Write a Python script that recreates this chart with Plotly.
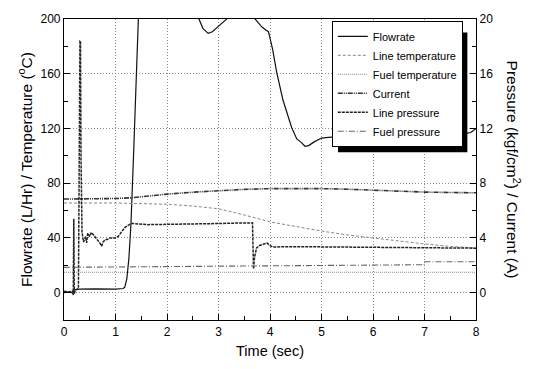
import plotly.graph_objects as go

# ---- data ----
flow_t = [0, 0.1, 0.15, 0.2, 0.3, 0.6, 1.0, 1.1, 1.15, 1.18, 1.22, 1.26, 1.3, 1.35, 1.4, 1.42, 1.5,
          2.5, 2.62, 2.7, 2.8, 2.88, 2.98, 3.08, 3.16, 3.2, 3.6, 3.71, 3.78, 3.84, 3.92, 3.97, 4.05, 4.13,
          4.25, 4.35, 4.42, 4.52, 4.6, 4.68, 4.75, 4.85, 5.0, 5.13, 5.3, 5.6, 5.85, 5.95, 6.05, 6.2,
          6.5, 6.7, 6.8, 6.9, 7.0, 7.3, 7.6, 7.75, 7.9, 8.0]
flow_v = [0, 0.5, 0, 2, 2.5, 2.8, 2.6, 2.8, 3, 4, 10, 25, 50, 100, 180, 205, 260,
          260, 200, 193, 189.5, 190.7, 194, 197, 200, 203, 215, 200, 197, 194.3, 192, 190.7, 178, 161,
          141, 128, 120.7, 112.3, 110, 107, 107.5, 110, 113, 113.5, 114, 114.5, 116, 117.5, 116, 115.5,
          115, 115.5, 117, 116, 115, 115, 115, 116, 117, 120]

linetemp_t = [0, 1.0, 2.0, 2.5, 3.0, 3.5, 4.0, 4.5, 5.0, 5.5, 6.0, 6.5, 7.0, 7.5, 8.0]
linetemp_v = [65.5, 65.5, 64.6, 63.3, 61.3, 56.8, 51.7, 48.2, 45, 42.2, 40, 37.6, 35.6, 33.8, 32.7]

fueltemp_t = [0, 1, 2, 3, 4, 5, 6, 7, 8]
fueltemp_v = [14.9, 14.8, 15.0, 14.9, 14.8, 14.9, 14.9, 15.0, 14.9]

current_t = [0, 0.5, 1.0, 1.3, 1.6, 2.0, 2.5, 3.0, 3.5, 4.0, 4.5, 5.0, 5.5, 6.0, 6.5, 7.0, 7.5, 8.0]
current_v = [6.84, 6.85, 6.88, 6.93, 7.05, 7.2, 7.34, 7.46, 7.55, 7.6, 7.62, 7.6, 7.56, 7.48, 7.42, 7.35, 7.32, 7.3]

linep_t = [0, 0.1, 0.16, 0.18, 0.19, 0.2, 0.22, 0.28, 0.31, 0.32, 0.33, 0.35, 0.38, 0.42, 0.44, 0.46,
           0.5, 0.53, 0.57, 0.6, 0.63, 0.66, 0.7, 0.73, 0.76, 0.8, 0.85, 0.89, 0.95, 0.99, 1.05,
           1.12, 1.18, 1.25, 1.32, 1.6, 2.0, 2.5, 3.0, 3.3, 3.6, 3.66, 3.68, 3.7, 3.74, 3.8, 3.88,
           3.94, 4.0, 4.05, 4.5, 5.0, 5.5, 6.0, 6.5, 7.0, 7.5, 8.0]
linep_v = [0.1, 0.05, 0.1, -0.17, 5.4, -0.1, 0.2, 0.3, 18.4, 18.4, 10, 4.4, 3.7, 4.1, 3.63, 4.34,
           4.1, 4.4, 4.23, 4.1, 3.99, 3.8, 3.6, 3.4, 3.7, 3.87, 3.9, 3.99, 4.0, 4.0, 4.1,
           4.46, 4.75, 4.94, 5.06, 4.97, 4.98, 5.0, 5.05, 5.08, 5.1, 5.1, 1.73, 2.6, 3.27, 3.45, 3.55,
           3.63, 3.45, 3.34, 3.36, 3.34, 3.34, 3.3, 3.28, 3.3, 3.28, 3.25]

fuelp_t = [0, 1, 2, 3, 4, 5, 6, 6.99, 7.0, 7.5, 8.0]
fuelp_v = [1.85, 1.87, 1.92, 1.95, 1.97, 1.99, 2.01, 2.04, 2.26, 2.26, 2.26]

FONT = "Liberation Sans, Arial, sans-serif"
GRID = dict(showgrid=True, gridcolor="#8a8a8a", griddash="1px,2px", gridwidth=1)

fig = go.Figure()
fig.add_trace(go.Scatter(x=flow_t, y=flow_v, name="Flowrate", mode="lines",
                         line=dict(color="#111111", width=1.2)))
fig.add_trace(go.Scatter(x=linetemp_t, y=linetemp_v, name="Line temperature", mode="lines",
                         line=dict(color="#888888", width=1, dash="3px,2px")))
fig.add_trace(go.Scatter(x=fueltemp_t, y=fueltemp_v, name="Fuel temperature", mode="lines",
                         line=dict(color="#888888", width=1, dash="1px,1px")))
fig.add_trace(go.Scatter(x=current_t, y=current_v, name="Current", mode="lines", yaxis="y2",
                         line=dict(color="#333333", width=1.6, dash="5px,1px,1px,1px,1px,1px")))
fig.add_trace(go.Scatter(x=linep_t, y=linep_v, name="Line pressure", mode="lines", yaxis="y2",
                         line=dict(color="#222222", width=1.5, dash="3px,1px")))
fig.add_trace(go.Scatter(x=fuelp_t, y=fuelp_v, name="Fuel pressure", mode="lines", yaxis="y2",
                         line=dict(color="#666666", width=1.1, dash="6px,2px,1px,2px")))

fig.update_layout(
    width=534, height=369,
    margin=dict(l=64, r=58, t=12, b=48),
    paper_bgcolor="white", plot_bgcolor="white",
    font=dict(family=FONT, size=12, color="black"),
    showlegend=True,
    legend=dict(x=0.650, y=0.994, xanchor="left", yanchor="top",
                bgcolor="white", bordercolor="black", borderwidth=1,
                font=dict(family=FONT, size=11, color="black"),
                itemwidth=30, tracegroupgap=0),
    xaxis=dict(range=[0, 8], dtick=1, tick0=0, ticks="inside", ticklen=6, tickwidth=1,
               tickcolor="black", showline=True, linecolor="black", linewidth=1.2, mirror=True,
               zeroline=False, **GRID,
               minor=dict(dtick=0.5, ticks="inside", ticklen=4, tickcolor="black", showgrid=False),
               title=dict(text="Time (sec)", font=dict(size=14.5), standoff=8),
               tickfont=dict(size=12)),
    yaxis=dict(range=[-20, 200], dtick=40, tick0=0, ticks="inside", ticklen=6, tickwidth=1,
               tickcolor="black", showline=True, linecolor="black", linewidth=1.2, mirror=False,
               zeroline=False, **GRID,
               minor=dict(dtick=20, ticks="inside", ticklen=4, tickcolor="black", showgrid=False),
               title=dict(text="Flowrate (L/Hr) / Temperature (<sup>o</sup>C)", font=dict(size=15.5),
                          standoff=4),
               tickfont=dict(size=12)),
    yaxis2=dict(range=[-2, 20], dtick=4, tick0=0, overlaying="y", side="right",
                ticks="inside", ticklen=6, tickwidth=1, tickcolor="black",
                showline=True, linecolor="black", linewidth=1.2, showgrid=False, zeroline=False,
                minor=dict(dtick=2, ticks="inside", ticklen=4, tickcolor="black", showgrid=False),
                tickfont=dict(size=12)),
    annotations=[dict(text="Pressure (kgf/cm<sup>2</sup>) / Current (A)", textangle=90,
                      xref="paper", yref="paper", x=1.092, y=0.5, xanchor="center", yanchor="middle",
                      showarrow=False, font=dict(family=FONT, size=15.5, color="black"))],
    shapes=[dict(type="rect", xref="paper", yref="paper", layer="above",
                 x0=0.665, x1=0.979, y0=0.557, y1=0.955,
                 fillcolor="black", line=dict(width=0))],
)

fig.write_html("out.html")
